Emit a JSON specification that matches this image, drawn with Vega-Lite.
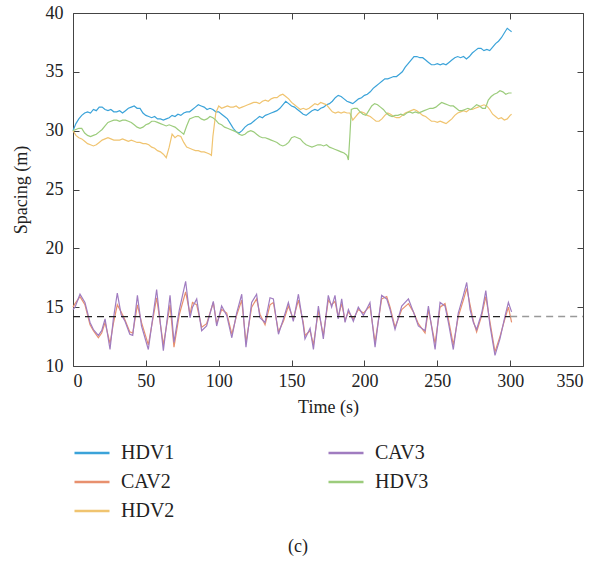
{
  "$schema": "https://vega.github.io/schema/vega-lite/v6.json",
  "width": 510,
  "height": 353,
  "autosize": "none",
  "padding": {"left": 73, "top": 13, "right": 14, "bottom": 195},
  "background": "white",
  "title": {"text": "(c)", "orient": "bottom", "anchor": "middle", "font": "Liberation Serif", "fontSize": 18, "fontWeight": "normal", "color": "#222", "offset": 17, "dx": -30},
  "config": {
    "view": {"stroke": "#444", "strokeWidth": 1},
    "axis": {"labelFont": "Liberation Serif", "titleFont": "Liberation Serif", "labelColor": "#222", "titleColor": "#222", "domainColor": "#444", "tickColor": "#444", "grid": false, "titleFontWeight": "normal"},
    "legend": {"labelFont": "Liberation Serif"}
  },
  "datasets": {
    "main": [
      {"t":0,"v":30.0,"s":"HDV1"},{"t":2,"v":30.6,"s":"HDV1"},{"t":4,"v":31.0,"s":"HDV1"},{"t":6,"v":31.3,"s":"HDV1"},{"t":8,"v":31.5,"s":"HDV1"},{"t":10,"v":31.6,"s":"HDV1"},{"t":12,"v":31.5,"s":"HDV1"},{"t":14,"v":31.8,"s":"HDV1"},{"t":16,"v":31.7,"s":"HDV1"},{"t":18,"v":32.0,"s":"HDV1"},{"t":20,"v":32.0,"s":"HDV1"},{"t":22,"v":31.8,"s":"HDV1"},{"t":24,"v":31.7,"s":"HDV1"},{"t":26,"v":31.8,"s":"HDV1"},{"t":28,"v":31.6,"s":"HDV1"},{"t":30,"v":31.6,"s":"HDV1"},{"t":32,"v":31.7,"s":"HDV1"},{"t":34,"v":31.5,"s":"HDV1"},{"t":36,"v":31.7,"s":"HDV1"},{"t":38,"v":31.9,"s":"HDV1"},{"t":40,"v":32.0,"s":"HDV1"},{"t":42,"v":32.1,"s":"HDV1"},{"t":44,"v":31.9,"s":"HDV1"},{"t":46,"v":31.9,"s":"HDV1"},{"t":48,"v":31.5,"s":"HDV1"},{"t":50,"v":31.3,"s":"HDV1"},{"t":52,"v":31.2,"s":"HDV1"},{"t":54,"v":31.1,"s":"HDV1"},{"t":56,"v":31.2,"s":"HDV1"},{"t":58,"v":31.0,"s":"HDV1"},{"t":60,"v":31.0,"s":"HDV1"},{"t":62,"v":30.9,"s":"HDV1"},{"t":64,"v":31.0,"s":"HDV1"},{"t":66,"v":31.1,"s":"HDV1"},{"t":68,"v":31.3,"s":"HDV1"},{"t":70,"v":31.2,"s":"HDV1"},{"t":72,"v":31.4,"s":"HDV1"},{"t":74,"v":31.3,"s":"HDV1"},{"t":76,"v":31.5,"s":"HDV1"},{"t":78,"v":31.6,"s":"HDV1"},{"t":80,"v":31.6,"s":"HDV1"},{"t":82,"v":31.8,"s":"HDV1"},{"t":84,"v":32.0,"s":"HDV1"},{"t":86,"v":32.2,"s":"HDV1"},{"t":88,"v":32.1,"s":"HDV1"},{"t":90,"v":32.0,"s":"HDV1"},{"t":92,"v":31.8,"s":"HDV1"},{"t":94,"v":31.9,"s":"HDV1"},{"t":96,"v":31.8,"s":"HDV1"},{"t":98,"v":31.6,"s":"HDV1"},{"t":100,"v":31.6,"s":"HDV1"},{"t":102,"v":31.4,"s":"HDV1"},{"t":104,"v":31.2,"s":"HDV1"},{"t":106,"v":31.0,"s":"HDV1"},{"t":108,"v":30.6,"s":"HDV1"},{"t":110,"v":30.2,"s":"HDV1"},{"t":112,"v":29.9,"s":"HDV1"},{"t":114,"v":29.8,"s":"HDV1"},{"t":116,"v":30.0,"s":"HDV1"},{"t":118,"v":30.3,"s":"HDV1"},{"t":120,"v":30.5,"s":"HDV1"},{"t":122,"v":30.6,"s":"HDV1"},{"t":124,"v":30.8,"s":"HDV1"},{"t":126,"v":31.0,"s":"HDV1"},{"t":128,"v":31.2,"s":"HDV1"},{"t":130,"v":31.1,"s":"HDV1"},{"t":132,"v":31.3,"s":"HDV1"},{"t":134,"v":31.4,"s":"HDV1"},{"t":136,"v":31.5,"s":"HDV1"},{"t":138,"v":31.6,"s":"HDV1"},{"t":140,"v":31.7,"s":"HDV1"},{"t":142,"v":31.9,"s":"HDV1"},{"t":144,"v":32.2,"s":"HDV1"},{"t":146,"v":32.5,"s":"HDV1"},{"t":148,"v":32.3,"s":"HDV1"},{"t":150,"v":32.1,"s":"HDV1"},{"t":152,"v":32.0,"s":"HDV1"},{"t":154,"v":31.8,"s":"HDV1"},{"t":156,"v":31.6,"s":"HDV1"},{"t":158,"v":31.4,"s":"HDV1"},{"t":160,"v":31.3,"s":"HDV1"},{"t":162,"v":31.5,"s":"HDV1"},{"t":164,"v":31.7,"s":"HDV1"},{"t":166,"v":31.8,"s":"HDV1"},{"t":168,"v":31.7,"s":"HDV1"},{"t":170,"v":31.9,"s":"HDV1"},{"t":172,"v":32.0,"s":"HDV1"},{"t":174,"v":32.2,"s":"HDV1"},{"t":176,"v":32.3,"s":"HDV1"},{"t":178,"v":32.5,"s":"HDV1"},{"t":180,"v":32.8,"s":"HDV1"},{"t":182,"v":33.0,"s":"HDV1"},{"t":184,"v":32.9,"s":"HDV1"},{"t":186,"v":32.7,"s":"HDV1"},{"t":188,"v":32.5,"s":"HDV1"},{"t":190,"v":32.4,"s":"HDV1"},{"t":192,"v":32.3,"s":"HDV1"},{"t":194,"v":32.5,"s":"HDV1"},{"t":196,"v":32.7,"s":"HDV1"},{"t":198,"v":32.8,"s":"HDV1"},{"t":200,"v":33.0,"s":"HDV1"},{"t":202,"v":33.1,"s":"HDV1"},{"t":204,"v":33.3,"s":"HDV1"},{"t":206,"v":33.6,"s":"HDV1"},{"t":208,"v":33.8,"s":"HDV1"},{"t":210,"v":34.0,"s":"HDV1"},{"t":212,"v":34.2,"s":"HDV1"},{"t":214,"v":34.4,"s":"HDV1"},{"t":216,"v":34.4,"s":"HDV1"},{"t":218,"v":34.5,"s":"HDV1"},{"t":220,"v":34.6,"s":"HDV1"},{"t":222,"v":34.6,"s":"HDV1"},{"t":224,"v":34.8,"s":"HDV1"},{"t":226,"v":35.0,"s":"HDV1"},{"t":228,"v":35.4,"s":"HDV1"},{"t":230,"v":35.7,"s":"HDV1"},{"t":232,"v":36.0,"s":"HDV1"},{"t":234,"v":36.3,"s":"HDV1"},{"t":236,"v":36.3,"s":"HDV1"},{"t":238,"v":36.2,"s":"HDV1"},{"t":240,"v":36.2,"s":"HDV1"},{"t":242,"v":36.0,"s":"HDV1"},{"t":244,"v":35.8,"s":"HDV1"},{"t":246,"v":35.6,"s":"HDV1"},{"t":248,"v":35.6,"s":"HDV1"},{"t":250,"v":35.7,"s":"HDV1"},{"t":252,"v":35.6,"s":"HDV1"},{"t":254,"v":35.7,"s":"HDV1"},{"t":256,"v":35.6,"s":"HDV1"},{"t":258,"v":35.8,"s":"HDV1"},{"t":260,"v":36.0,"s":"HDV1"},{"t":262,"v":36.2,"s":"HDV1"},{"t":264,"v":36.3,"s":"HDV1"},{"t":266,"v":36.2,"s":"HDV1"},{"t":268,"v":36.3,"s":"HDV1"},{"t":270,"v":36.1,"s":"HDV1"},{"t":272,"v":36.3,"s":"HDV1"},{"t":274,"v":36.6,"s":"HDV1"},{"t":276,"v":36.8,"s":"HDV1"},{"t":278,"v":37.0,"s":"HDV1"},{"t":280,"v":37.0,"s":"HDV1"},{"t":282,"v":36.8,"s":"HDV1"},{"t":284,"v":36.9,"s":"HDV1"},{"t":286,"v":36.8,"s":"HDV1"},{"t":288,"v":37.1,"s":"HDV1"},{"t":290,"v":37.4,"s":"HDV1"},{"t":292,"v":37.6,"s":"HDV1"},{"t":294,"v":37.9,"s":"HDV1"},{"t":296,"v":38.3,"s":"HDV1"},{"t":298,"v":38.7,"s":"HDV1"},{"t":300,"v":38.5,"s":"HDV1"},{"t":301,"v":38.4,"s":"HDV1"},

      {"t":0,"v":15.0,"s":"CAV2"},{"t":1.4,"v":15.3,"s":"CAV2"},{"t":4.8,"v":15.9,"s":"CAV2"},{"t":8.2,"v":15.2,"s":"CAV2"},{"t":11.7,"v":13.5,"s":"CAV2"},{"t":14,"v":13.0,"s":"CAV2"},{"t":17.4,"v":12.4,"s":"CAV2"},{"t":19.7,"v":12.8,"s":"CAV2"},{"t":22,"v":13.7,"s":"CAV2"},{"t":25.4,"v":11.9,"s":"CAV2"},{"t":27.7,"v":13.6,"s":"CAV2"},{"t":30.4,"v":15.2,"s":"CAV2"},{"t":33,"v":14.6,"s":"CAV2"},{"t":35.7,"v":13.9,"s":"CAV2"},{"t":39,"v":12.9,"s":"CAV2"},{"t":41,"v":12.8,"s":"CAV2"},{"t":44.2,"v":15.2,"s":"CAV2"},{"t":47,"v":13.7,"s":"CAV2"},{"t":51.7,"v":11.8,"s":"CAV2"},{"t":57.4,"v":15.8,"s":"CAV2"},{"t":62,"v":11.8,"s":"CAV2"},{"t":66.6,"v":15.2,"s":"CAV2"},{"t":69.3,"v":11.6,"s":"CAV2"},{"t":73,"v":14.4,"s":"CAV2"},{"t":77.3,"v":16.3,"s":"CAV2"},{"t":80.3,"v":14.4,"s":"CAV2"},{"t":82,"v":15.4,"s":"CAV2"},{"t":84.9,"v":15.2,"s":"CAV2"},{"t":88.3,"v":13.3,"s":"CAV2"},{"t":91.7,"v":13.6,"s":"CAV2"},{"t":96.3,"v":15.4,"s":"CAV2"},{"t":98.6,"v":13.6,"s":"CAV2"},{"t":102,"v":14.8,"s":"CAV2"},{"t":105.5,"v":14.5,"s":"CAV2"},{"t":109,"v":12.7,"s":"CAV2"},{"t":112.3,"v":14.3,"s":"CAV2"},{"t":115.8,"v":15.6,"s":"CAV2"},{"t":118.7,"v":12.0,"s":"CAV2"},{"t":122.6,"v":15.0,"s":"CAV2"},{"t":126,"v":15.7,"s":"CAV2"},{"t":128.3,"v":14.4,"s":"CAV2"},{"t":131.8,"v":13.5,"s":"CAV2"},{"t":135.2,"v":15.2,"s":"CAV2"},{"t":137.5,"v":15.4,"s":"CAV2"},{"t":141,"v":12.9,"s":"CAV2"},{"t":144.4,"v":13.8,"s":"CAV2"},{"t":147.8,"v":15.1,"s":"CAV2"},{"t":151.2,"v":14.0,"s":"CAV2"},{"t":154.7,"v":15.6,"s":"CAV2"},{"t":158,"v":13.7,"s":"CAV2"},{"t":159.2,"v":12.6,"s":"CAV2"},{"t":162.7,"v":13.0,"s":"CAV2"},{"t":165,"v":11.8,"s":"CAV2"},{"t":168.4,"v":14.7,"s":"CAV2"},{"t":171.8,"v":12.6,"s":"CAV2"},{"t":175.2,"v":15.6,"s":"CAV2"},{"t":177.5,"v":15.2,"s":"CAV2"},{"t":179.8,"v":15.5,"s":"CAV2"},{"t":182,"v":14.2,"s":"CAV2"},{"t":184.4,"v":15.3,"s":"CAV2"},{"t":186.7,"v":13.9,"s":"CAV2"},{"t":189,"v":14.6,"s":"CAV2"},{"t":192.4,"v":14.0,"s":"CAV2"},{"t":195.8,"v":14.8,"s":"CAV2"},{"t":199.3,"v":14.5,"s":"CAV2"},{"t":203.8,"v":15.1,"s":"CAV2"},{"t":207.3,"v":12.0,"s":"CAV2"},{"t":211.8,"v":15.7,"s":"CAV2"},{"t":215.3,"v":15.9,"s":"CAV2"},{"t":217.6,"v":15.0,"s":"CAV2"},{"t":221,"v":13.3,"s":"CAV2"},{"t":225.6,"v":14.8,"s":"CAV2"},{"t":230.2,"v":15.3,"s":"CAV2"},{"t":233.6,"v":14.6,"s":"CAV2"},{"t":237,"v":13.6,"s":"CAV2"},{"t":241.6,"v":12.8,"s":"CAV2"},{"t":243.9,"v":14.8,"s":"CAV2"},{"t":248.5,"v":11.9,"s":"CAV2"},{"t":251.9,"v":15.0,"s":"CAV2"},{"t":255.3,"v":15.3,"s":"CAV2"},{"t":257.6,"v":14.0,"s":"CAV2"},{"t":261,"v":11.8,"s":"CAV2"},{"t":264.4,"v":14.2,"s":"CAV2"},{"t":267.9,"v":15.6,"s":"CAV2"},{"t":270.2,"v":16.6,"s":"CAV2"},{"t":272.5,"v":15.2,"s":"CAV2"},{"t":274.8,"v":13.8,"s":"CAV2"},{"t":277,"v":12.9,"s":"CAV2"},{"t":280.5,"v":14.3,"s":"CAV2"},{"t":283.3,"v":15.9,"s":"CAV2"},{"t":286.2,"v":13.7,"s":"CAV2"},{"t":289.6,"v":11.2,"s":"CAV2"},{"t":293,"v":12.5,"s":"CAV2"},{"t":296.6,"v":14.1,"s":"CAV2"},{"t":298.8,"v":15.0,"s":"CAV2"},{"t":301,"v":13.7,"s":"CAV2"},

      {"t":0,"v":30.0,"s":"HDV2"},{"t":2,"v":29.6,"s":"HDV2"},{"t":4,"v":29.4,"s":"HDV2"},{"t":6,"v":29.3,"s":"HDV2"},{"t":8,"v":29.1,"s":"HDV2"},{"t":10,"v":28.9,"s":"HDV2"},{"t":12,"v":28.8,"s":"HDV2"},{"t":14,"v":28.7,"s":"HDV2"},{"t":16,"v":28.8,"s":"HDV2"},{"t":18,"v":29.0,"s":"HDV2"},{"t":20,"v":29.2,"s":"HDV2"},{"t":22,"v":29.3,"s":"HDV2"},{"t":24,"v":29.4,"s":"HDV2"},{"t":26,"v":29.3,"s":"HDV2"},{"t":28,"v":29.2,"s":"HDV2"},{"t":30,"v":29.2,"s":"HDV2"},{"t":32,"v":29.2,"s":"HDV2"},{"t":34,"v":29.3,"s":"HDV2"},{"t":36,"v":29.2,"s":"HDV2"},{"t":38,"v":29.1,"s":"HDV2"},{"t":40,"v":29.2,"s":"HDV2"},{"t":42,"v":29.1,"s":"HDV2"},{"t":44,"v":29.0,"s":"HDV2"},{"t":46,"v":29.0,"s":"HDV2"},{"t":48,"v":28.9,"s":"HDV2"},{"t":50,"v":28.9,"s":"HDV2"},{"t":52,"v":28.8,"s":"HDV2"},{"t":54,"v":28.6,"s":"HDV2"},{"t":56,"v":28.5,"s":"HDV2"},{"t":58,"v":28.3,"s":"HDV2"},{"t":60,"v":28.2,"s":"HDV2"},{"t":62,"v":28.0,"s":"HDV2"},{"t":64,"v":27.7,"s":"HDV2"},{"t":66,"v":28.6,"s":"HDV2"},{"t":68,"v":29.7,"s":"HDV2"},{"t":70,"v":29.4,"s":"HDV2"},{"t":72,"v":29.6,"s":"HDV2"},{"t":74,"v":29.5,"s":"HDV2"},{"t":76,"v":29.0,"s":"HDV2"},{"t":78,"v":28.6,"s":"HDV2"},{"t":80,"v":28.5,"s":"HDV2"},{"t":82,"v":28.4,"s":"HDV2"},{"t":84,"v":28.3,"s":"HDV2"},{"t":86,"v":28.3,"s":"HDV2"},{"t":88,"v":28.2,"s":"HDV2"},{"t":90,"v":28.2,"s":"HDV2"},{"t":92,"v":28.1,"s":"HDV2"},{"t":94,"v":28.0,"s":"HDV2"},{"t":95,"v":27.9,"s":"HDV2"},{"t":96,"v":29.5,"s":"HDV2"},{"t":98,"v":31.5,"s":"HDV2"},{"t":100,"v":32.1,"s":"HDV2"},{"t":102,"v":31.9,"s":"HDV2"},{"t":104,"v":32.0,"s":"HDV2"},{"t":106,"v":32.1,"s":"HDV2"},{"t":108,"v":32.0,"s":"HDV2"},{"t":110,"v":32.0,"s":"HDV2"},{"t":112,"v":32.1,"s":"HDV2"},{"t":114,"v":31.9,"s":"HDV2"},{"t":116,"v":32.0,"s":"HDV2"},{"t":118,"v":32.1,"s":"HDV2"},{"t":120,"v":32.2,"s":"HDV2"},{"t":122,"v":32.3,"s":"HDV2"},{"t":124,"v":32.4,"s":"HDV2"},{"t":126,"v":32.4,"s":"HDV2"},{"t":128,"v":32.3,"s":"HDV2"},{"t":130,"v":32.5,"s":"HDV2"},{"t":132,"v":32.6,"s":"HDV2"},{"t":134,"v":32.5,"s":"HDV2"},{"t":136,"v":32.7,"s":"HDV2"},{"t":138,"v":32.8,"s":"HDV2"},{"t":140,"v":32.8,"s":"HDV2"},{"t":142,"v":33.0,"s":"HDV2"},{"t":144,"v":33.1,"s":"HDV2"},{"t":146,"v":32.9,"s":"HDV2"},{"t":148,"v":32.7,"s":"HDV2"},{"t":150,"v":32.4,"s":"HDV2"},{"t":152,"v":32.2,"s":"HDV2"},{"t":154,"v":32.0,"s":"HDV2"},{"t":156,"v":31.8,"s":"HDV2"},{"t":158,"v":31.9,"s":"HDV2"},{"t":160,"v":31.8,"s":"HDV2"},{"t":162,"v":31.9,"s":"HDV2"},{"t":164,"v":32.1,"s":"HDV2"},{"t":166,"v":32.3,"s":"HDV2"},{"t":168,"v":32.2,"s":"HDV2"},{"t":170,"v":32.4,"s":"HDV2"},{"t":172,"v":32.3,"s":"HDV2"},{"t":174,"v":32.2,"s":"HDV2"},{"t":176,"v":31.9,"s":"HDV2"},{"t":178,"v":31.6,"s":"HDV2"},{"t":180,"v":31.5,"s":"HDV2"},{"t":182,"v":31.6,"s":"HDV2"},{"t":184,"v":31.5,"s":"HDV2"},{"t":186,"v":31.6,"s":"HDV2"},{"t":188,"v":31.5,"s":"HDV2"},{"t":190,"v":31.5,"s":"HDV2"},{"t":192,"v":30.9,"s":"HDV2"},{"t":194,"v":31.2,"s":"HDV2"},{"t":196,"v":31.5,"s":"HDV2"},{"t":198,"v":31.6,"s":"HDV2"},{"t":200,"v":31.5,"s":"HDV2"},{"t":202,"v":31.3,"s":"HDV2"},{"t":204,"v":31.2,"s":"HDV2"},{"t":206,"v":31.0,"s":"HDV2"},{"t":208,"v":30.8,"s":"HDV2"},{"t":210,"v":30.8,"s":"HDV2"},{"t":212,"v":31.0,"s":"HDV2"},{"t":214,"v":31.3,"s":"HDV2"},{"t":216,"v":31.5,"s":"HDV2"},{"t":218,"v":31.4,"s":"HDV2"},{"t":220,"v":31.2,"s":"HDV2"},{"t":222,"v":31.1,"s":"HDV2"},{"t":224,"v":31.1,"s":"HDV2"},{"t":226,"v":31.3,"s":"HDV2"},{"t":228,"v":31.5,"s":"HDV2"},{"t":230,"v":31.6,"s":"HDV2"},{"t":232,"v":31.7,"s":"HDV2"},{"t":234,"v":31.8,"s":"HDV2"},{"t":236,"v":31.7,"s":"HDV2"},{"t":238,"v":31.5,"s":"HDV2"},{"t":240,"v":31.3,"s":"HDV2"},{"t":242,"v":31.2,"s":"HDV2"},{"t":244,"v":31.0,"s":"HDV2"},{"t":246,"v":30.8,"s":"HDV2"},{"t":248,"v":30.8,"s":"HDV2"},{"t":250,"v":30.7,"s":"HDV2"},{"t":252,"v":30.8,"s":"HDV2"},{"t":254,"v":30.7,"s":"HDV2"},{"t":256,"v":30.6,"s":"HDV2"},{"t":258,"v":30.8,"s":"HDV2"},{"t":260,"v":31.0,"s":"HDV2"},{"t":262,"v":31.3,"s":"HDV2"},{"t":264,"v":31.5,"s":"HDV2"},{"t":266,"v":31.6,"s":"HDV2"},{"t":268,"v":31.7,"s":"HDV2"},{"t":270,"v":31.6,"s":"HDV2"},{"t":272,"v":31.8,"s":"HDV2"},{"t":274,"v":31.8,"s":"HDV2"},{"t":276,"v":31.9,"s":"HDV2"},{"t":278,"v":32.0,"s":"HDV2"},{"t":280,"v":32.1,"s":"HDV2"},{"t":282,"v":32.2,"s":"HDV2"},{"t":284,"v":32.1,"s":"HDV2"},{"t":286,"v":31.8,"s":"HDV2"},{"t":288,"v":31.4,"s":"HDV2"},{"t":290,"v":31.2,"s":"HDV2"},{"t":292,"v":31.0,"s":"HDV2"},{"t":294,"v":31.1,"s":"HDV2"},{"t":296,"v":30.9,"s":"HDV2"},{"t":298,"v":31.0,"s":"HDV2"},{"t":300,"v":31.3,"s":"HDV2"},{"t":301,"v":31.4,"s":"HDV2"},

      {"t":0,"v":14.8,"s":"CAV3"},{"t":1.4,"v":15.0,"s":"CAV3"},{"t":4.8,"v":16.1,"s":"CAV3"},{"t":8.2,"v":15.4,"s":"CAV3"},{"t":11.7,"v":13.7,"s":"CAV3"},{"t":14,"v":13.1,"s":"CAV3"},{"t":17.4,"v":12.6,"s":"CAV3"},{"t":19.7,"v":13.0,"s":"CAV3"},{"t":22,"v":14.0,"s":"CAV3"},{"t":25.4,"v":11.4,"s":"CAV3"},{"t":27.7,"v":14.0,"s":"CAV3"},{"t":30.4,"v":16.2,"s":"CAV3"},{"t":33,"v":14.4,"s":"CAV3"},{"t":35.7,"v":13.8,"s":"CAV3"},{"t":39,"v":12.7,"s":"CAV3"},{"t":41,"v":12.6,"s":"CAV3"},{"t":44.2,"v":16.0,"s":"CAV3"},{"t":47,"v":13.4,"s":"CAV3"},{"t":51.7,"v":11.4,"s":"CAV3"},{"t":57.4,"v":16.5,"s":"CAV3"},{"t":62,"v":11.3,"s":"CAV3"},{"t":66.6,"v":16.0,"s":"CAV3"},{"t":69.3,"v":12.0,"s":"CAV3"},{"t":73,"v":14.8,"s":"CAV3"},{"t":77.3,"v":17.2,"s":"CAV3"},{"t":80.3,"v":14.1,"s":"CAV3"},{"t":82,"v":15.0,"s":"CAV3"},{"t":84.9,"v":15.7,"s":"CAV3"},{"t":88.3,"v":13.0,"s":"CAV3"},{"t":91.7,"v":13.4,"s":"CAV3"},{"t":96.3,"v":15.5,"s":"CAV3"},{"t":98.6,"v":13.4,"s":"CAV3"},{"t":102,"v":15.1,"s":"CAV3"},{"t":105.5,"v":14.3,"s":"CAV3"},{"t":109,"v":12.4,"s":"CAV3"},{"t":112.3,"v":14.5,"s":"CAV3"},{"t":115.8,"v":16.1,"s":"CAV3"},{"t":118.7,"v":11.6,"s":"CAV3"},{"t":122.6,"v":15.4,"s":"CAV3"},{"t":126,"v":16.1,"s":"CAV3"},{"t":128.3,"v":14.1,"s":"CAV3"},{"t":131.8,"v":13.7,"s":"CAV3"},{"t":135.2,"v":15.8,"s":"CAV3"},{"t":137.5,"v":15.7,"s":"CAV3"},{"t":141,"v":12.7,"s":"CAV3"},{"t":144.4,"v":14.0,"s":"CAV3"},{"t":147.8,"v":15.4,"s":"CAV3"},{"t":151.2,"v":13.8,"s":"CAV3"},{"t":154.7,"v":16.1,"s":"CAV3"},{"t":158,"v":13.5,"s":"CAV3"},{"t":159.2,"v":12.3,"s":"CAV3"},{"t":162.7,"v":13.2,"s":"CAV3"},{"t":165,"v":11.4,"s":"CAV3"},{"t":168.4,"v":15.1,"s":"CAV3"},{"t":171.8,"v":12.3,"s":"CAV3"},{"t":175.2,"v":16.0,"s":"CAV3"},{"t":177.5,"v":15.0,"s":"CAV3"},{"t":179.8,"v":16.0,"s":"CAV3"},{"t":182,"v":14.0,"s":"CAV3"},{"t":184.4,"v":15.7,"s":"CAV3"},{"t":186.7,"v":13.7,"s":"CAV3"},{"t":189,"v":14.8,"s":"CAV3"},{"t":192.4,"v":13.8,"s":"CAV3"},{"t":195.8,"v":15.0,"s":"CAV3"},{"t":199.3,"v":14.3,"s":"CAV3"},{"t":203.8,"v":15.4,"s":"CAV3"},{"t":207.3,"v":11.6,"s":"CAV3"},{"t":211.8,"v":16.0,"s":"CAV3"},{"t":215.3,"v":15.7,"s":"CAV3"},{"t":217.6,"v":14.8,"s":"CAV3"},{"t":221,"v":13.1,"s":"CAV3"},{"t":225.6,"v":15.1,"s":"CAV3"},{"t":230.2,"v":15.7,"s":"CAV3"},{"t":233.6,"v":14.6,"s":"CAV3"},{"t":237,"v":13.4,"s":"CAV3"},{"t":241.6,"v":13.0,"s":"CAV3"},{"t":243.9,"v":15.1,"s":"CAV3"},{"t":248.5,"v":11.4,"s":"CAV3"},{"t":251.9,"v":15.4,"s":"CAV3"},{"t":255.3,"v":15.1,"s":"CAV3"},{"t":257.6,"v":13.7,"s":"CAV3"},{"t":261,"v":11.4,"s":"CAV3"},{"t":264.4,"v":14.5,"s":"CAV3"},{"t":267.9,"v":16.0,"s":"CAV3"},{"t":270.2,"v":17.1,"s":"CAV3"},{"t":272.5,"v":14.8,"s":"CAV3"},{"t":274.8,"v":13.7,"s":"CAV3"},{"t":277,"v":13.1,"s":"CAV3"},{"t":280.5,"v":14.5,"s":"CAV3"},{"t":283.3,"v":16.4,"s":"CAV3"},{"t":286.2,"v":13.4,"s":"CAV3"},{"t":289.6,"v":10.9,"s":"CAV3"},{"t":293,"v":12.3,"s":"CAV3"},{"t":296.6,"v":14.3,"s":"CAV3"},{"t":298.8,"v":15.4,"s":"CAV3"},{"t":301,"v":14.6,"s":"CAV3"},

      {"t":0,"v":30.0,"s":"HDV3"},{"t":2,"v":30.1,"s":"HDV3"},{"t":4,"v":30.2,"s":"HDV3"},{"t":6,"v":30.2,"s":"HDV3"},{"t":8,"v":29.8,"s":"HDV3"},{"t":10,"v":29.6,"s":"HDV3"},{"t":12,"v":29.5,"s":"HDV3"},{"t":14,"v":29.6,"s":"HDV3"},{"t":16,"v":29.7,"s":"HDV3"},{"t":18,"v":29.9,"s":"HDV3"},{"t":20,"v":30.1,"s":"HDV3"},{"t":22,"v":30.4,"s":"HDV3"},{"t":24,"v":30.7,"s":"HDV3"},{"t":26,"v":30.8,"s":"HDV3"},{"t":28,"v":30.9,"s":"HDV3"},{"t":30,"v":30.9,"s":"HDV3"},{"t":32,"v":30.8,"s":"HDV3"},{"t":34,"v":30.9,"s":"HDV3"},{"t":36,"v":30.9,"s":"HDV3"},{"t":38,"v":30.8,"s":"HDV3"},{"t":40,"v":30.7,"s":"HDV3"},{"t":42,"v":30.5,"s":"HDV3"},{"t":44,"v":30.3,"s":"HDV3"},{"t":46,"v":30.2,"s":"HDV3"},{"t":48,"v":30.3,"s":"HDV3"},{"t":50,"v":30.5,"s":"HDV3"},{"t":52,"v":30.6,"s":"HDV3"},{"t":54,"v":30.8,"s":"HDV3"},{"t":56,"v":30.8,"s":"HDV3"},{"t":58,"v":30.7,"s":"HDV3"},{"t":60,"v":30.6,"s":"HDV3"},{"t":62,"v":30.5,"s":"HDV3"},{"t":64,"v":30.4,"s":"HDV3"},{"t":66,"v":30.5,"s":"HDV3"},{"t":68,"v":30.4,"s":"HDV3"},{"t":70,"v":30.3,"s":"HDV3"},{"t":72,"v":30.1,"s":"HDV3"},{"t":74,"v":29.9,"s":"HDV3"},{"t":76,"v":29.7,"s":"HDV3"},{"t":78,"v":30.4,"s":"HDV3"},{"t":80,"v":31.0,"s":"HDV3"},{"t":82,"v":31.1,"s":"HDV3"},{"t":84,"v":31.2,"s":"HDV3"},{"t":86,"v":31.2,"s":"HDV3"},{"t":88,"v":31.0,"s":"HDV3"},{"t":90,"v":30.9,"s":"HDV3"},{"t":92,"v":31.0,"s":"HDV3"},{"t":94,"v":31.2,"s":"HDV3"},{"t":96,"v":31.1,"s":"HDV3"},{"t":98,"v":30.9,"s":"HDV3"},{"t":100,"v":30.6,"s":"HDV3"},{"t":102,"v":30.5,"s":"HDV3"},{"t":104,"v":30.3,"s":"HDV3"},{"t":106,"v":30.2,"s":"HDV3"},{"t":108,"v":30.1,"s":"HDV3"},{"t":110,"v":30.0,"s":"HDV3"},{"t":112,"v":29.9,"s":"HDV3"},{"t":114,"v":29.7,"s":"HDV3"},{"t":116,"v":29.6,"s":"HDV3"},{"t":118,"v":29.7,"s":"HDV3"},{"t":120,"v":29.9,"s":"HDV3"},{"t":122,"v":30.0,"s":"HDV3"},{"t":124,"v":29.9,"s":"HDV3"},{"t":126,"v":29.7,"s":"HDV3"},{"t":128,"v":29.5,"s":"HDV3"},{"t":130,"v":29.4,"s":"HDV3"},{"t":132,"v":29.4,"s":"HDV3"},{"t":134,"v":29.3,"s":"HDV3"},{"t":136,"v":29.2,"s":"HDV3"},{"t":138,"v":29.1,"s":"HDV3"},{"t":140,"v":29.0,"s":"HDV3"},{"t":142,"v":28.8,"s":"HDV3"},{"t":144,"v":28.7,"s":"HDV3"},{"t":146,"v":28.8,"s":"HDV3"},{"t":148,"v":29.0,"s":"HDV3"},{"t":150,"v":29.4,"s":"HDV3"},{"t":152,"v":29.5,"s":"HDV3"},{"t":154,"v":29.4,"s":"HDV3"},{"t":156,"v":29.3,"s":"HDV3"},{"t":158,"v":29.0,"s":"HDV3"},{"t":160,"v":28.8,"s":"HDV3"},{"t":162,"v":28.7,"s":"HDV3"},{"t":164,"v":28.6,"s":"HDV3"},{"t":166,"v":28.7,"s":"HDV3"},{"t":168,"v":28.8,"s":"HDV3"},{"t":170,"v":28.8,"s":"HDV3"},{"t":172,"v":28.7,"s":"HDV3"},{"t":174,"v":28.8,"s":"HDV3"},{"t":176,"v":28.6,"s":"HDV3"},{"t":178,"v":28.5,"s":"HDV3"},{"t":180,"v":28.4,"s":"HDV3"},{"t":182,"v":28.3,"s":"HDV3"},{"t":184,"v":28.2,"s":"HDV3"},{"t":186,"v":28.1,"s":"HDV3"},{"t":188,"v":27.9,"s":"HDV3"},{"t":189,"v":27.5,"s":"HDV3"},{"t":190,"v":29.5,"s":"HDV3"},{"t":191,"v":31.8,"s":"HDV3"},{"t":193,"v":31.9,"s":"HDV3"},{"t":195,"v":31.9,"s":"HDV3"},{"t":197,"v":31.6,"s":"HDV3"},{"t":199,"v":31.4,"s":"HDV3"},{"t":201,"v":31.3,"s":"HDV3"},{"t":203,"v":31.7,"s":"HDV3"},{"t":205,"v":32.1,"s":"HDV3"},{"t":207,"v":32.3,"s":"HDV3"},{"t":209,"v":32.2,"s":"HDV3"},{"t":211,"v":32.0,"s":"HDV3"},{"t":213,"v":31.8,"s":"HDV3"},{"t":215,"v":31.5,"s":"HDV3"},{"t":217,"v":31.3,"s":"HDV3"},{"t":219,"v":31.2,"s":"HDV3"},{"t":221,"v":31.3,"s":"HDV3"},{"t":223,"v":31.3,"s":"HDV3"},{"t":225,"v":31.4,"s":"HDV3"},{"t":227,"v":31.3,"s":"HDV3"},{"t":229,"v":31.5,"s":"HDV3"},{"t":231,"v":31.6,"s":"HDV3"},{"t":233,"v":31.5,"s":"HDV3"},{"t":235,"v":31.6,"s":"HDV3"},{"t":237,"v":31.5,"s":"HDV3"},{"t":239,"v":31.6,"s":"HDV3"},{"t":241,"v":31.7,"s":"HDV3"},{"t":243,"v":31.8,"s":"HDV3"},{"t":245,"v":31.9,"s":"HDV3"},{"t":247,"v":31.9,"s":"HDV3"},{"t":249,"v":32.0,"s":"HDV3"},{"t":251,"v":32.2,"s":"HDV3"},{"t":253,"v":32.4,"s":"HDV3"},{"t":255,"v":32.3,"s":"HDV3"},{"t":257,"v":32.2,"s":"HDV3"},{"t":259,"v":32.1,"s":"HDV3"},{"t":261,"v":32.1,"s":"HDV3"},{"t":263,"v":31.9,"s":"HDV3"},{"t":265,"v":31.7,"s":"HDV3"},{"t":267,"v":31.7,"s":"HDV3"},{"t":269,"v":31.8,"s":"HDV3"},{"t":271,"v":31.9,"s":"HDV3"},{"t":273,"v":31.8,"s":"HDV3"},{"t":275,"v":32.0,"s":"HDV3"},{"t":277,"v":32.2,"s":"HDV3"},{"t":279,"v":32.1,"s":"HDV3"},{"t":281,"v":31.9,"s":"HDV3"},{"t":283,"v":31.9,"s":"HDV3"},{"t":285,"v":32.6,"s":"HDV3"},{"t":287,"v":32.9,"s":"HDV3"},{"t":289,"v":33.1,"s":"HDV3"},{"t":291,"v":33.2,"s":"HDV3"},{"t":293,"v":33.4,"s":"HDV3"},{"t":295,"v":33.3,"s":"HDV3"},{"t":297,"v":33.1,"s":"HDV3"},{"t":299,"v":33.2,"s":"HDV3"},{"t":301,"v":33.2,"s":"HDV3"}
    ]
  },
  "layer": [
    {
      "data": {"name": "main"},
      "mark": {"type": "line", "strokeWidth": 1.2, "interpolate": "linear"},
      "encoding": {
        "x": {"field": "t", "type": "quantitative", "scale": {"domain": [0, 350], "nice": false},
              "axis": {"orient": "bottom", "title": "Time (s)", "values": [0,50,100,150,200,250,300,350], "tickSize": -6, "labelPadding": 12, "labelFont": "Liberation Serif", "titleFont": "Liberation Serif", "labelFontSize": 18, "titleFontSize": 18, "titlePadding": 8, "domain": false}},
        "y": {"field": "v", "type": "quantitative", "scale": {"domain": [10, 40], "nice": false, "zero": false},
              "axis": {"orient": "left", "title": "Spacing (m)", "values": [10,15,20,25,30,35,40], "tickSize": -6, "labelPadding": 16, "labelFont": "Liberation Serif", "titleFont": "Liberation Serif", "labelFontSize": 18, "titleFontSize": 18, "titlePadding": 15, "domain": false}},
        "color": {"field": "s", "type": "nominal",
                  "scale": {"domain": ["HDV1","CAV2","HDV2","CAV3","HDV3"], "range": ["#3ba3d9","#e8906e","#f0c470","#a07cc0","#9ccc7c"]},
                  "legend": {"title": null, "orient": "none", "legendX": 0, "legendY": 421, "columns": 2, "symbolType": "stroke", "symbolSize": 1225, "symbolStrokeWidth": 2.5, "labelFont": "Liberation Serif", "labelFontSize": 20, "labelColor": "#222", "labelOffset": 10, "columnPadding": 148, "rowPadding": -6, "padding": 0, "gridAlign": "all"}}
      }
    },
    {
      "data": {"values": [{"t": 0, "v": 14.2}, {"t": 300, "v": 14.2}]},
      "mark": {"type": "line", "color": "#222", "strokeWidth": 1.2, "strokeDash": [7, 5]},
      "encoding": {
        "x": {"field": "t", "type": "quantitative", "axis": {"orient": "top", "labels": false, "title": null, "values": [0,50,100,150,200,250,300,350], "tickSize": -6, "domain": false}},
        "y": {"field": "v", "type": "quantitative", "axis": {"orient": "right", "labels": false, "title": null, "values": [10,15,20,25,30,35,40], "tickSize": -6, "domain": false}}
      }
    },
    {
      "data": {"values": [{"t": 300, "v": 14.2}, {"t": 350, "v": 14.2}]},
      "mark": {"type": "line", "color": "#999", "strokeWidth": 1.5, "strokeDash": [7, 5]},
      "encoding": {
        "x": {"field": "t", "type": "quantitative", "axis": null},
        "y": {"field": "v", "type": "quantitative", "axis": null}
      }
    }
  ],
  "resolve": {"axis": {"x": "independent", "y": "independent"}}
}
